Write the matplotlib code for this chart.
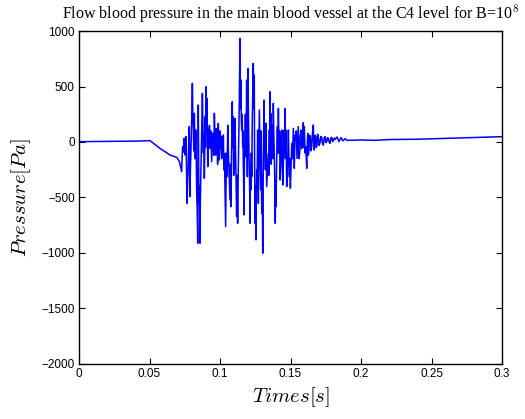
import matplotlib
matplotlib.use('Agg')
import matplotlib.pyplot as plt

# time [s] and pressure [Pa]
t = [0.0, 0.0007, 0.02, 0.04, 0.0504, 0.0574, 0.0645, 0.0693, 0.0712,
     0.0728, 0.0731, 0.0735, 0.0740, 0.0745, 0.0748, 0.0752, 0.0755, 0.0759, 0.0762,
     0.0766, 0.0769, 0.0773, 0.0777, 0.0782, 0.0784, 0.0787, 0.0790, 0.0794, 0.0799,
     0.0804, 0.0807, 0.0811, 0.0814, 0.0818, 0.0823, 0.0828, 0.0831, 0.0835, 0.0838,
     0.0842, 0.0844, 0.0846, 0.0848, 0.0851, 0.0854, 0.0858, 0.0861, 0.0865, 0.0870,
     0.0875, 0.0878, 0.0882, 0.0885, 0.0889, 0.0891, 0.0894, 0.0897, 0.0901, 0.0904,
     0.0908, 0.0910, 0.0913, 0.0917, 0.0922, 0.0925, 0.0929, 0.0935, 0.0941, 0.0947,
     0.0953, 0.0956, 0.0960, 0.0964, 0.0969, 0.0974, 0.0979, 0.0983, 0.0988, 0.0991,
     0.0995, 0.1001, 0.1007, 0.1012, 0.1017, 0.1020, 0.1024, 0.1027, 0.1031, 0.1035,
     0.1040, 0.1045, 0.1050, 0.1055, 0.1059, 0.1065, 0.1071, 0.1074, 0.1078, 0.1082,
     0.1087, 0.1090, 0.1094, 0.1097, 0.1101, 0.1103, 0.1106, 0.1112, 0.1118, 0.1121,
     0.1125, 0.1127, 0.1130, 0.1136, 0.1142, 0.1145, 0.1149, 0.1151, 0.1154, 0.1157,
     0.1161, 0.1163, 0.1165, 0.1167, 0.1170, 0.1173, 0.1177, 0.1180, 0.1184, 0.1186,
     0.1189, 0.1191, 0.1194, 0.1196, 0.1199, 0.1202, 0.1206, 0.1209, 0.1213, 0.1216,
     0.1220, 0.1222, 0.1225, 0.1227, 0.1229, 0.1232, 0.1236, 0.1239, 0.1243, 0.1245,
     0.1248, 0.1251, 0.1255, 0.1257, 0.1260, 0.1263, 0.1267, 0.1269, 0.1272, 0.1275,
     0.1279, 0.1284, 0.1289, 0.1292, 0.1296, 0.1299, 0.1303, 0.1307, 0.1312, 0.1315,
     0.1319, 0.1322, 0.1326, 0.1328, 0.1331, 0.1337, 0.1343, 0.1346, 0.1350, 0.1352,
     0.1355, 0.1357, 0.1360, 0.1363, 0.1367, 0.1370, 0.1374, 0.1376, 0.1378, 0.1381,
     0.1385, 0.1388, 0.1392, 0.1394, 0.1397, 0.1402, 0.1407, 0.1410, 0.1414, 0.1417,
     0.1421, 0.1423, 0.1426, 0.1432, 0.1438, 0.1441, 0.1445, 0.1449, 0.1454, 0.1457,
     0.1461, 0.1464, 0.1468, 0.1470, 0.1473, 0.1476, 0.1480, 0.1482, 0.1485, 0.1488,
     0.1492, 0.1495, 0.1499, 0.1504, 0.1509, 0.1514, 0.1520, 0.1523, 0.1527, 0.1532,
     0.1537, 0.1541, 0.1546, 0.1550, 0.1555, 0.1560, 0.1565, 0.1569, 0.1574, 0.1579,
     0.1584, 0.1587, 0.1591, 0.1594, 0.1598, 0.1603, 0.1608, 0.1611, 0.1615, 0.1618,
     0.1622, 0.1626, 0.1631, 0.1636, 0.1641, 0.1645, 0.1650, 0.1656, 0.1662, 0.1665,
     0.1669, 0.1674, 0.1679, 0.1683, 0.1688, 0.1692, 0.1697, 0.1703, 0.1709, 0.1715,
     0.1721, 0.1727, 0.1733, 0.1739, 0.1745, 0.1751, 0.1757, 0.1762, 0.1768, 0.1774,
     0.1780, 0.1786, 0.1792, 0.1798, 0.1804, 0.1810, 0.1816,
     0.1830, 0.1844, 0.1858, 0.1872, 0.1887, 0.1901, 0.2000, 0.2100, 0.2200, 0.2400,
     0.2600, 0.2800, 0.3]
p = [-10, 3, 5, 8, 12, -57, -117, -138, -177,
     -267, -150, -42, -90, 33, -20, -117, -30, 48, -200,
     -552, -400, -282, -60, 138, -100, -492, -250, -72, 200,
     528, 250, 108, -80, 258, -150, 108, -100, -462, -600,
     -912, -200, 333, -100, -552, -400, -912, -500, -252, 100,
     438, 200, -102, 60, -327, -100, 228, -50, 498, 120,
     393, 50, -222, 120, 18, 150, -57, 100, -177, 80,
     -12, -120, 258, 60, -117, 120, 18, -200, 168, -30,
     -162, 100, 18, -150, 48, -60, 63, -250, -102, -400,
     -762, -100, -312, 150, -72, -300, -522, -200, -582, -100,
     363, -50, 228, -300, -117, -250, 213, -200, -672, -300,
     -732, -500, -222, 300, 933, 300, 558, 200, 108, 250,
     -42, 100, -192, -300, -657, -200, 78, 250, -132, 100,
     558, 100, -312, 200, 663, 200, -132, -300, -732, -200,
     -432, -100, -312, -50, 198, 400, 708, 300, 603, -100,
     -732, -400, -882, -500, -252, -400, 108, -150, -552, -200,
     288, -100, -432, 100, -642, -300, -1002, -200, 378, 100,
     -42, -250, 168, -100, -402, -250, -102, -300, 108, -100,
     453, 100, 258, -200, -42, 150, -12, -150, 348, 100,
     -132, -300, -732, -400, -582, -150, 138, -100, 303, 50,
     -102, 100, -342, -150, 108, -150, -387, -200, 108, -100,
     303, -150, 108, -100, -402, -250, -192, -50, 108, -100,
     -312, -150, -417, -200, -12, -150, 123, -50, -237, 60,
     18, 100, -147, -30, 138, -150, -102, 50, 108, -60,
     18, 100, 174, -50, 138, -100, -42, -120, -237, -50,
     78, -120, -72, 60, 48, -80, -42, 80, 153, -40,
     -72, 60, 48, -50, -27, 70, 54, -30, -12, 50,
     42, -10, -27, 40, 48, -5, 3, 40, 33, 0,
     -12, 35, 42, 5, 12, 35, 24,
     45, 3, 40, 10, 30, 15, 18, 15, 22, 25,
     33, 40, 48]

xticks = [0, 0.05, 0.1, 0.15, 0.2, 0.25, 0.3]
xticklabels = ['0', '0.05', '0.1', '0.15', '0.2', '0.25', '0.3']
yticks = [-2000, -1500, -1000, -500, 0, 500, 1000]

plt.rcParams['mathtext.fontset'] = 'cm'
plt.rcParams['font.family'] = 'Liberation Sans'

fig = plt.figure(figsize=(5.25, 4.19), dpi=100)
ax = fig.add_axes([0.1505, 0.1313, 0.8057, 0.7947])
ax.plot(t, p, color='#0000ff', linewidth=1.1)
ax.set_xlim(0, 0.3)
ax.set_ylim(-2000, 1000)
ax.set_xticks(xticks)
ax.set_xticklabels(xticklabels)
ax.set_yticks(yticks)
ax.tick_params(direction='in', top=True, right=True, labelsize=8.5, length=4, width=0.8, pad=3)
for s in ax.spines.values():
    s.set_linewidth(1.0)
ax.set_xlabel(r'$Times[s]$', fontsize=15, labelpad=4)
ax.set_ylabel(r'$Pressure[Pa]$', fontsize=15, labelpad=6)
ax.set_title(r'Flow blood pressure in the main blood vessel at the C4 level for B=10$^8$',
             fontsize=11.5, family='Liberation Serif', pad=9)

fig.savefig('out.png', dpi=100)
